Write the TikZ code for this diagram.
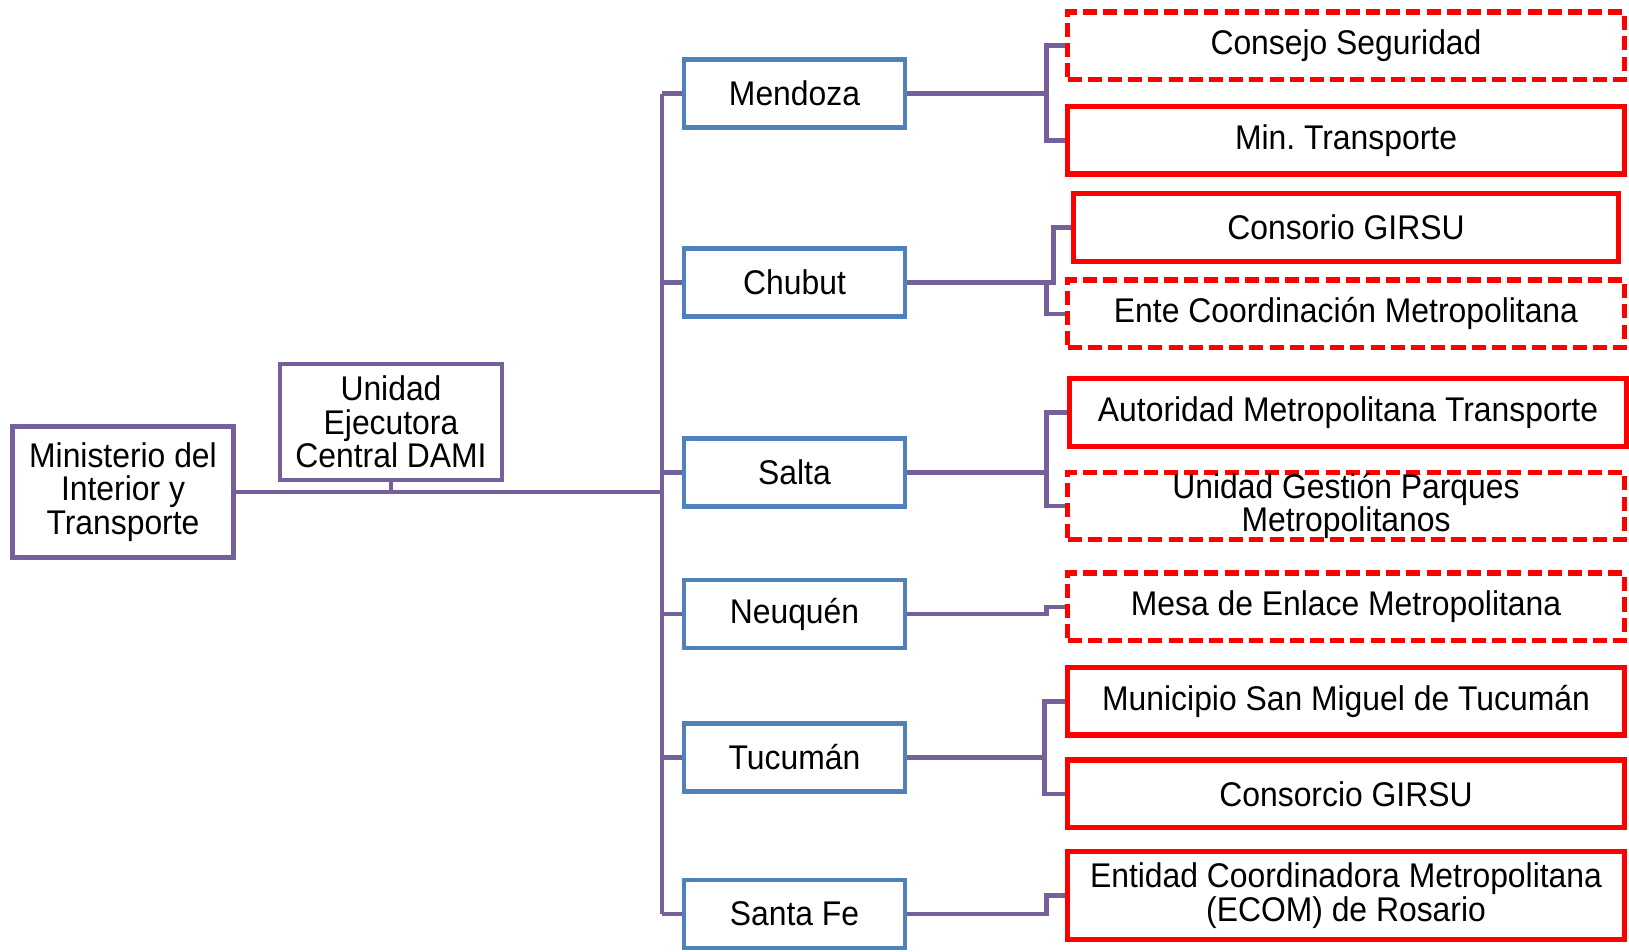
\documentclass[tikz,border=0pt]{standalone}
\usepackage{fontspec}
\setmainfont[FakeStretch=0.93]{Liberation Sans}
\definecolor{orgpurple}{HTML}{76609C}
\definecolor{orgblue}{HTML}{4F81BD}
\definecolor{orgred}{HTML}{FF0000}
\frenchspacing

\begin{document}
\begin{tikzpicture}[x=0.02cm, y=-0.02cm,
  every node/.style={font=\fontsize{19.5}{19}\selectfont, align=center, inner sep=0},
  headbox/.style={draw=orgpurple, line width=2.6pt},
  provbox/.style={draw=orgblue, line width=2.6pt, minimum width=4.42cm, minimum height=1.36cm},
  entbox/.style={draw=orgred, line width=3pt, minimum width=11.14cm, minimum height=1.35cm},
  entdash/.style={entbox, dash pattern=on 8pt off 3.5pt},
  link/.style={draw=orgpurple, line width=2.6pt}]

\useasboundingbox (0,0) rectangle (1629,951);

% left part
\node[headbox, minimum width=4.42cm, minimum height=2.62cm] (min) at (123,492) {Ministerio del\\Interior y\\Transporte};
\node[headbox, minimum width=4.44cm, minimum height=2.32cm] (ued) at (391,422) {Unidad\\Ejecutora\\Central DAMI};
\coordinate (tk) at (662,492);

% provinces
\node[provbox] (mza) at (794.5,93.5) {Mendoza};
\node[provbox] (chu) at (794.5,282.6) {Chubut};
\node[provbox] (sal) at (794.5,472.7) {Salta};
\node[provbox] (neu) at (794.5,614) {Neuquén};
\node[provbox] (tuc) at (794.5,757.4) {Tucumán};
\node[provbox] (sfe) at (794.5,914) {Santa Fe};

% entities
\node[entdash] (cs) at (1346,45.7) {Consejo Seguridad};
\node[entbox] (mt) at (1346,140.3) {Min. Transporte};
\node[entbox, minimum width=10.9cm] (cg) at (1346,227.5) {Consorio GIRSU};
\node[entdash] (ecm) at (1346,313.8) {Ente Coordinación Metropolitana};
\node[entbox] (amt) at (1348,412.5) {Autoridad Metropolitana Transporte};
\node[entdash] (ugp) at (1346,506) {Unidad Gestión Parques\\Metropolitanos};
\node[entdash] (mem) at (1346,606.8) {Mesa de Enlace Metropolitana};
\node[entbox] (msm) at (1346,701.3) {Municipio San Miguel de Tucumán};
\node[entbox] (cgt) at (1346,793.8) {Consorcio GIRSU};
\node[entbox, minimum height=1.76cm] (eco) at (1346,895.6) {Entidad Coordinadora Metropolitana\\(ECOM) de Rosario};

% connectors
\draw[link] (min.east) -- (tk);
\draw[link] (ued.south) -- (ued.south |- tk);
\draw[link] (tk |- mza.west) -- (tk |- sfe.west);
\draw[link] (tk |- mza.west) -- (mza.west);
\draw[link] (tk |- chu.west) -- (chu.west);
\draw[link] (tk |- sal.west) -- (sal.west);
\draw[link] (tk |- neu.west) -- (neu.west);
\draw[link] (tk |- tuc.west) -- (tuc.west);
\draw[link] (tk |- sfe.west) -- (sfe.west);

\draw[link] (mza.east) -- ++(139,0) |- (cs.west);
\draw[link] (mza.east) -- ++(139,0) |- (mt.west);
\draw[link] (chu.east) -- ++(146,0) |- (cg.west);
\draw[link] (chu.east) -- ++(139,0) |- (ecm.west);
\draw[link] (sal.east) -- ++(139,0) |- (amt.west);
\draw[link] (sal.east) -- ++(139,0) |- (ugp.west);
\draw[link] (neu.east) -- ++(139,0) |- (mem.west);
\draw[link] (tuc.east) -- ++(137,0) |- (msm.west);
\draw[link] (tuc.east) -- ++(137,0) |- (cgt.west);
\draw[link] (sfe.east) -- ++(139,0) |- (eco.west);

\end{tikzpicture}
\end{document}
